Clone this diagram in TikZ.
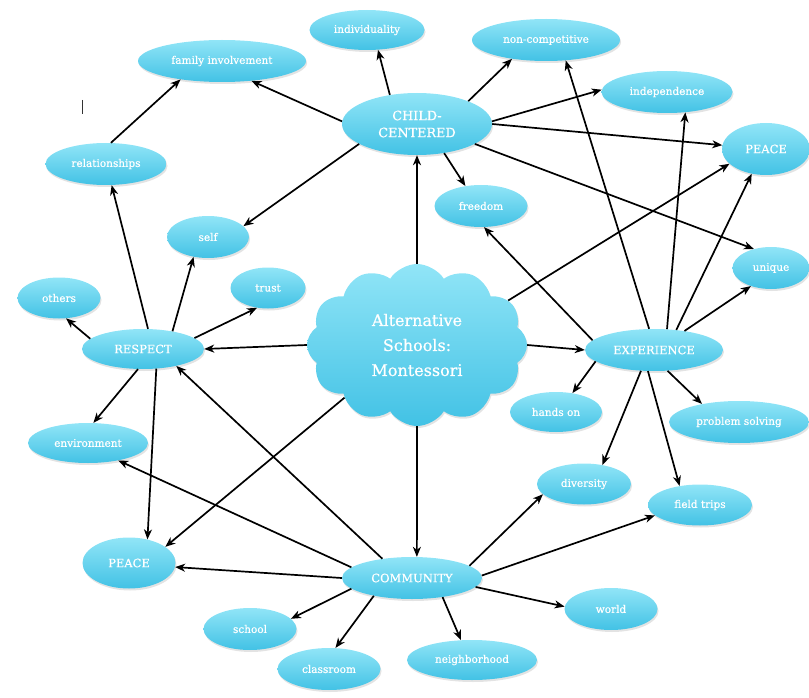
\documentclass[tikz,border=0pt]{standalone}
\usepackage{fontspec}
\setmainfont{DejaVu Serif}[FakeBold=0.6]
\usetikzlibrary{shapes.geometric,shapes.symbols,arrows.meta,shadows}
\definecolor{ntop}{RGB}{145,229,247}
\definecolor{nbot}{RGB}{66,194,229}
\tikzset{
  bub/.style={ellipse, inner sep=0pt, top color=ntop, bottom color=nbot, draw=none,
    text=white, font=\fontsize{10.5}{12}\selectfont,
    drop shadow={opacity=0.22, shadow xshift=1pt, shadow yshift=-2pt}},
  bigbub/.style={bub, font=\fontsize{11.5}{13}\selectfont},
  conn/.style={-{Stealth[length=10pt,width=8pt,inset=3pt]}, line width=1.7pt, black},
}
\begin{document}
\begin{tikzpicture}[x=1pt,y=-1pt]
\useasboundingbox (0,0) rectangle (809,698);
% nodes
\node[bub, minimum width=115pt, minimum height=40pt] (ind) at (367,30) {individuality};
\node[bub, minimum width=168pt, minimum height=42pt] (fam) at (222,61) {family involvement};
\node[bub, minimum width=148pt, minimum height=42pt] (nonc) at (546,40) {non-competitive};
\node[bub, font=\fontsize{12.8}{17}\selectfont, align=center, minimum width=150pt, minimum height=62pt] (cc) at (417,124) {CHILD-\\CENTERED};
\node[bub, minimum width=131pt, minimum height=42pt] (indep) at (667,92) {independence};
\node[bigbub, minimum width=88pt, minimum height=52pt] (peaceT) at (766,149) {PEACE};
\node[bub, minimum width=121pt, minimum height=42pt] (rel) at (106,164) {relationships};
\node[bub, minimum width=93pt, minimum height=42pt] (free) at (481,206) {freedom};
\node[bub, minimum width=82pt, minimum height=42pt] (self) at (208,237) {self};
\node[bub, minimum width=77pt, minimum height=42pt] (uniq) at (771,268) {unique};
\node[bub, minimum width=83pt, minimum height=41pt] (oth) at (59,298) {others};
\node[bub, minimum width=75pt, minimum height=41pt] (trust) at (268,288) {trust};
\node[bigbub, minimum width=122pt, minimum height=40pt] (resp) at (143,349) {RESPECT};
\node[cloud, cloud puffs=12, cloud puff arc=115, aspect=1.35, inner sep=0pt,
      minimum width=220pt, minimum height=162pt, top color=ntop, bottom color=nbot,
      text=white, align=center, font=\fontsize{16}{25}\selectfont,
      drop shadow={opacity=0.22, shadow xshift=1pt, shadow yshift=-2pt}] (cloud) at (417,345) {Alternative\\Schools:\\Montessori};
\node[bigbub, minimum width=138pt, minimum height=42pt] (exp) at (654,350) {EXPERIENCE};
\node[bub, minimum width=92pt, minimum height=40pt] (hands) at (556,412) {hands on};
\node[bub, minimum width=140pt, minimum height=42pt] (prob) at (739,422) {problem solving};
\node[bub, minimum width=120pt, minimum height=40pt] (env) at (88,443) {environment};
\node[bub, minimum width=94pt, minimum height=41pt] (div) at (584,484) {diversity};
\node[bub, minimum width=104pt, minimum height=41pt] (field) at (700,505) {field trips};
\node[bigbub, minimum width=93pt, minimum height=51pt] (peaceB) at (129,563) {PEACE};
\node[bigbub, minimum width=140pt, minimum height=42pt] (comm) at (412,578) {COMMUNITY};
\node[bub, minimum width=93pt, minimum height=42pt] (world) at (611,609) {world};
\node[bub, minimum width=93pt, minimum height=42pt] (school) at (250,629) {school};
\node[bub, minimum width=103pt, minimum height=42pt] (class) at (329,669) {classroom};
\node[bub, minimum width=130pt, minimum height=40pt] (neigh) at (472,660) {neighborhood};
% stray mark
\draw[line width=0.9pt, black!80] (82,100) -- (82,114);
% connectors
\draw[conn] (cc.133) -- (ind.-61);
\draw[conn] (cc.178) -- (fam.-34);
\draw[conn] (cc.24) -- (nonc.-151);
\draw[conn] (cc.2) -- (indep.178);
\draw[conn] (cc.0) -- (peaceT.175);
\draw[conn] (cc.-47) -- (free.128);
\draw[conn] (cc.-19) -- (uniq.132);
\draw[conn] (cc.-161) -- (self.17);
\draw[conn] (cloud.north) -- (cc.south);
\draw[conn] (cloud.west) -- (resp.east);
\draw[conn] (cloud.east) -- (exp.west);
\draw[conn] (cloud.south) -- (comm.77);
\draw[conn] (cloud.26) -- (peaceT.-158);
\draw[conn] (cloud.-144) -- (peaceB.24);
\draw[conn] (resp.76) -- (rel.-75);
\draw[conn] (resp.31) -- (self.-126);
\draw[conn] (resp.12) -- (trust.-119);
\draw[conn] (resp.169) -- (oth.-71);
\draw[conn] (resp.-104) -- (env.75);
\draw[conn] (resp.-56) -- (peaceB.52);
\draw[conn] (rel.77) -- (fam.-156);
\draw[conn] (exp.171) -- (free.-82);
\draw[conn] (exp.103) -- (nonc.-46);
\draw[conn] (exp.58) -- (indep.-48);
\draw[conn] (exp.42) -- (peaceT.-120);
\draw[conn] (exp.32) -- (uniq.-138);
\draw[conn] (exp.-169) -- (hands.49);
\draw[conn] (exp.-57) -- (prob.154);
\draw[conn] (exp.-122) -- (div.46);
\draw[conn] (exp.-106) -- (field.137);
\draw[conn] (comm.170) -- (env.-30);
\draw[conn] (comm.147) -- (resp.-27);
\draw[conn] (comm.180) -- (peaceB.-5);
\draw[conn] (comm.-170) -- (school.14);
\draw[conn] (comm.-155) -- (class.73);
\draw[conn] (comm.-32) -- (neigh.119);
\draw[conn] (comm.-8) -- (world.177);
\draw[conn] (comm.12) -- (div.-166);
\draw[conn] (comm.2) -- (field.-167);
\end{tikzpicture}
\end{document}
